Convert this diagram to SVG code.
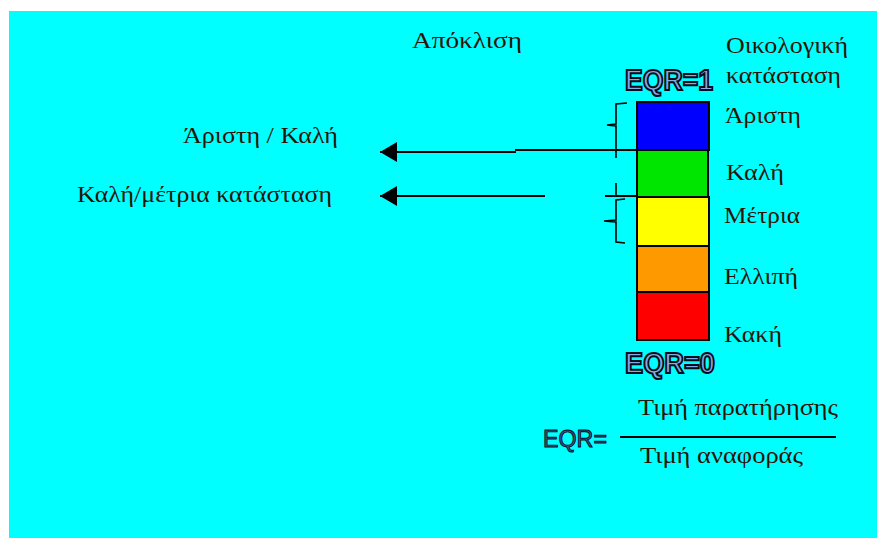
<svg xmlns="http://www.w3.org/2000/svg" width="877" height="538" viewBox="0 0 877 538">
  <style>
    .lbl { font-family: "Liberation Serif", "Times New Roman", serif; font-size: 23px; fill: #2b1408; }
    .eqr { font-family: "Liberation Sans", Arial, sans-serif; fill: #86ade2; stroke: #0a0c20; stroke-width: 2px; }
    .eqr-small { fill: #3d5a96; stroke-width: 0.9px; }
    .band { stroke: #000; stroke-width: 2; }
    .wire { stroke: #000; stroke-width: 2; fill: none; }
    .brace { stroke: #000; stroke-width: 1.6; fill: none; }
  </style>
  <defs>
    <marker id="head" markerWidth="17" markerHeight="20" refX="17" refY="10" orient="auto" markerUnits="userSpaceOnUse">
      <path d="M0,0 L17,10 L0,20 Z" fill="#000"/>
    </marker>
  </defs>

  <!-- page background -->
  <rect x="0" y="0" width="877" height="538" fill="#fff"/>
  <rect x="9" y="11" width="868" height="527" fill="#00ffff"/>

  <!-- headings -->
  <g id="heading-deviation">
    <text class="lbl" x="412" y="48" textLength="110" lengthAdjust="spacingAndGlyphs">Απόκλιση</text>
  </g>
  <g id="heading-status">
    <text class="lbl" x="726" y="53" textLength="122" lengthAdjust="spacingAndGlyphs">Οικολογική</text>
    <text class="lbl" x="726" y="83" textLength="115" lengthAdjust="spacingAndGlyphs">κατάσταση</text>
  </g>

  <!-- scale end values -->
  <g id="eqr-top">
    <text class="eqr" x="625" y="90" font-size="29" font-weight="bold" textLength="88" lengthAdjust="spacingAndGlyphs">EQR=1</text>
  </g>
  <g id="eqr-bottom">
    <text class="eqr" x="625" y="373" font-size="29" font-weight="bold" textLength="90" lengthAdjust="spacingAndGlyphs">EQR=0</text>
  </g>

  <!-- status bands -->
  <g id="band-high">
    <rect class="band" x="637" y="102" width="72" height="48" fill="#0000ff"/>
    <text class="lbl" x="725" y="123" textLength="76" lengthAdjust="spacingAndGlyphs">Άριστη</text>
  </g>
  <g id="band-good">
    <rect x="637" y="150" width="71" height="47" fill="#00e600" stroke="#000" stroke-width="2"/>
    <text class="lbl" x="726" y="180" textLength="58" lengthAdjust="spacingAndGlyphs">Καλή</text>
  </g>
  <g id="band-moderate">
    <rect class="band" x="637" y="197" width="72" height="49" fill="#ffff00"/>
    <text class="lbl" x="724" y="223" textLength="76" lengthAdjust="spacingAndGlyphs">Μέτρια</text>
  </g>
  <g id="band-poor">
    <rect class="band" x="637" y="246" width="72" height="46" fill="#ff9900"/>
    <text class="lbl" x="724" y="284" textLength="74" lengthAdjust="spacingAndGlyphs">Ελλιπή</text>
  </g>
  <g id="band-bad">
    <rect class="band" x="637" y="292" width="72" height="48" fill="#ff0000"/>
    <text class="lbl" x="724" y="342" textLength="58" lengthAdjust="spacingAndGlyphs">Κακή</text>
  </g>

  <!-- boundary outcomes -->
  <g id="outcome-high-good">
    <text class="lbl" x="183" y="143" textLength="155" lengthAdjust="spacingAndGlyphs">Άριστη / Καλή</text>
  </g>
  <g id="outcome-good-moderate">
    <text class="lbl" x="77" y="202" textLength="255" lengthAdjust="spacingAndGlyphs">Καλή/μέτρια κατάσταση</text>
  </g>

  <!-- connectors and braces -->
  <g id="connectors">
    <line class="wire" x1="636" y1="150" x2="515" y2="150"/>
    <line class="wire" x1="516" y1="152" x2="380" y2="152" marker-end="url(#head)"/>
    <line class="wire" x1="545" y1="196" x2="380" y2="196" marker-end="url(#head)"/>
    <line class="wire" x1="605" y1="196" x2="636" y2="196"/>
    <!-- brace over the high band -->
    <path class="brace" d="M627,103 L616,104 L616,124 L607,125 L616,126 L616,150 L625,150 M616,150 L616,158"/>
    <path class="brace" d="M616,183 L616,196"/>
    <!-- brace over the moderate band -->
    <path class="brace" d="M625,199 L616,200 L616,220 L604,221 L616,222 L616,242 L625,243"/>
    <line class="wire" x1="708" y1="168" x2="708" y2="197"/>
  </g>

  <!-- EQR definition -->
  <g id="formula">
    <text class="eqr eqr-small" x="543" y="447" font-size="23" textLength="64" lengthAdjust="spacingAndGlyphs">EQR=</text>
    <line x1="620" y1="437" x2="836" y2="437" stroke="#000" stroke-width="2"/>
    <text class="lbl" x="638" y="415" textLength="200" lengthAdjust="spacingAndGlyphs">Τιμή παρατήρησης</text>
    <text class="lbl" x="640" y="463" textLength="163" lengthAdjust="spacingAndGlyphs">Τιμή αναφοράς</text>
  </g>
</svg>
